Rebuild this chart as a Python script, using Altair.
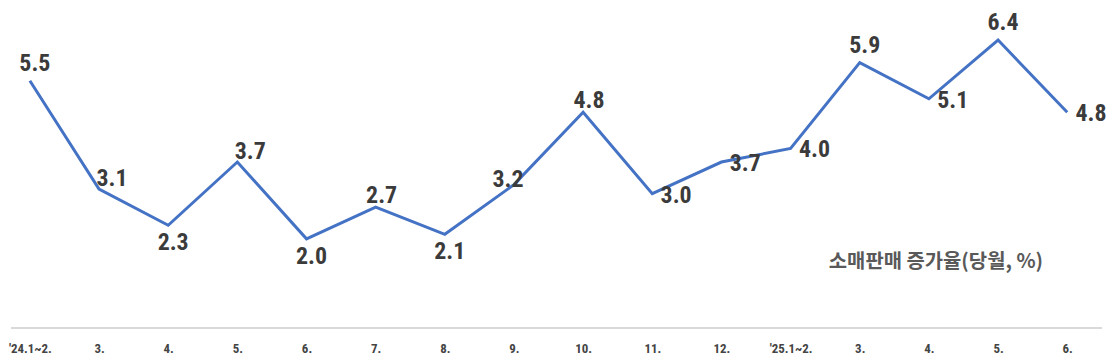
import json
import altair as alt
import pandas as pd

categories = ["'24.1~2.", "3.", "4.", "5.", "6.", "7.", "8.", "9.", "10.", "11.",
              "12.", "'25.1~2.", "3.", "4.", "5.", "6."]
values = [5.5, 3.1, 2.3, 3.7, 2.0, 2.7, 2.1, 3.2, 4.8, 3.0, 3.7, 4.0, 5.9, 5.1, 6.4, 4.8]
label_place = ["top", "topright", "bottom", "topright", "bottom", "topnear", "bottom", "left",
               "topnear", "right", "right", "right", "top", "right", "top", "right"]
series_name = "소매판매 증가율(당월, %)"

# label offsets (dx, dy) by placement
offsets = {
    "top": (5, -17),
    "topnear": (6, -11),
    "topright": (13, -10),
    "bottom": (5, 18),
    "right": (24, 2),
    "left": (-6, -5),
}

df = pd.DataFrame({
    "idx": list(range(len(values))),
    "value": values,
    "label": [f"{v:.1f}" for v in values],
    "place": label_place,
})

NUM_FONT = "Roboto Condensed, Liberation Sans Narrow, Arial Narrow, DejaVu Sans Condensed, sans-serif"
W, H = 1097, 318

label_expr = "[" + ",".join(json.dumps(c) for c in categories) + "][datum.value]"

x = alt.X("idx:O",
          scale=alt.Scale(type="point", range=[19, 1062], padding=0),
          axis=alt.Axis(title=None, labelExpr=label_expr, domain=False, ticks=False,
                        grid=False, labelAngle=0, labelFont=NUM_FONT, labelFontSize=13,
                        labelFontWeight="bold", labelColor="#444444",
                        labelBaseline="middle", labelPadding=19))
y = alt.Y("value:Q", scale=alt.Scale(domain=[0, 7]), axis=None)

base = alt.Chart(df)

baseline = alt.Chart(df).mark_rule(color="#d9d9d9", strokeWidth=1).encode(
    x=alt.value(0), x2=alt.value(W), y=alt.value(H - 1))

line = base.mark_line(color="#4472C4", strokeWidth=3).encode(x=x, y=y)

layers = [baseline, line]
for place, (dx, dy) in offsets.items():
    layers.append(
        base.transform_filter(alt.datum.place == place)
        .mark_text(font=NUM_FONT, fontSize=24, fontWeight="bold", color="#3b3b3b",
                   dx=dx, dy=dy, align="center", baseline="middle")
        .encode(x=x, y=y, text="label:N")
    )

note = alt.Chart(pd.DataFrame({"t": [series_name]})).mark_text(
    font="Noto Sans CJK KR", fontSize=20, fontWeight="bold", color="#595959",
    align="center", baseline="middle").encode(
    x=alt.value(930), y=alt.value(250), text="t:N")
layers.append(note)

chart = alt.layer(*layers).properties(
    width=W, height=H,
    padding={"left": 0, "top": 2, "right": 0, "bottom": 0},
).configure(background="white", view=alt.ViewConfig(stroke=None))

chart.save("out.html", embed_options={"renderer": "svg", "actions": False})
